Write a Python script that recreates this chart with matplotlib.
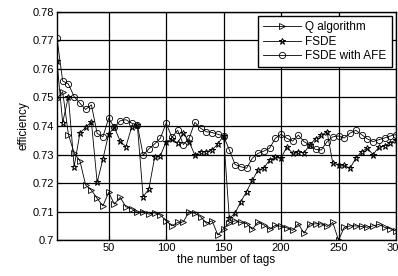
import matplotlib
matplotlib.use("Agg")
import matplotlib.pyplot as plt

plt.rcParams['font.family'] = ['Liberation Sans', 'DejaVu Sans']

tags = list(range(5, 305, 5))

q_algorithm = [0.7495, 0.752, 0.737, 0.7305, 0.7278, 0.7193, 0.7175, 0.7146, 0.712, 0.7167,
               0.7126, 0.715, 0.7117, 0.711, 0.7097, 0.710, 0.7091, 0.7096, 0.7088, 0.7068,
               0.7050, 0.7062, 0.7064, 0.7100, 0.7094, 0.7082, 0.7059, 0.7068, 0.7018, 0.7040,
               0.7060, 0.7068, 0.7062, 0.7058, 0.7038, 0.7064, 0.7053, 0.7038, 0.7052, 0.7048,
               0.7043, 0.7034, 0.7057, 0.7024, 0.7057, 0.7057, 0.7057, 0.7048, 0.7062, 0.7000,
               0.7045, 0.7050, 0.7050, 0.7048, 0.7045, 0.7050, 0.7055, 0.7045, 0.7040, 0.7032]

fsde = [0.7628, 0.7412, 0.7503, 0.7257, 0.7375, 0.7395, 0.7415, 0.7202, 0.7284, 0.7372,
        0.7395, 0.7347, 0.7327, 0.7396, 0.7402, 0.7152, 0.7179, 0.7290, 0.7296, 0.7345,
        0.7353, 0.7341, 0.7374, 0.7345, 0.7298, 0.7310, 0.7310, 0.7316, 0.7337, 0.7366,
        0.7076, 0.7095, 0.7135, 0.7170, 0.7210, 0.7246, 0.7252, 0.7281, 0.7290, 0.7287,
        0.7327, 0.7304, 0.7310, 0.7306, 0.7333, 0.7356, 0.7368, 0.7380, 0.7270, 0.7265,
        0.7262, 0.7252, 0.7287, 0.7310, 0.7322, 0.7300, 0.7325, 0.7330, 0.7341, 0.7352]

fsde_afe = [0.771, 0.7558, 0.7547, 0.7503, 0.748, 0.7458, 0.7474, 0.7374, 0.7362, 0.7427,
            0.7395, 0.7418, 0.7422, 0.7410, 0.7404, 0.7298, 0.7320, 0.7337, 0.7357, 0.7410,
            0.7360, 0.7385, 0.7335, 0.7357, 0.7413, 0.7392, 0.7380, 0.7377, 0.7371, 0.7365,
            0.7316, 0.7265, 0.7257, 0.7252, 0.7287, 0.7304, 0.7312, 0.7322, 0.7357, 0.7371,
            0.7357, 0.7347, 0.7368, 0.7345, 0.7333, 0.7318, 0.7316, 0.7345, 0.7362, 0.7365,
            0.7358, 0.7375, 0.7385, 0.7370, 0.7355, 0.7345, 0.7352, 0.7358, 0.7365, 0.7370]

xticks = [50, 100, 150, 200, 250, 300]
yticks = [0.7, 0.71, 0.72, 0.73, 0.74, 0.75, 0.76, 0.77, 0.78]
ytick_labels = ["0.7", "0.71", "0.72", "0.73", "0.74", "0.75", "0.76", "0.77", "0.78"]

fig = plt.figure(figsize=(3.98, 2.76), dpi=100)
ax = fig.add_axes([0.143, 0.130, 0.852, 0.827])

ax.plot(tags, q_algorithm, color='black', lw=0.6, marker='>', ms=5, mfc='none', mew=0.6,
        label="Q algorithm")
ax.plot(tags, fsde, color='black', lw=0.6, marker='*', ms=5, mfc='none', mew=0.7,
        label="FSDE")
ax.plot(tags, fsde_afe, color='black', lw=0.6, marker='o', ms=4.5, mfc='none', mew=0.6,
        label="FSDE with AFE")

ax.set_xlim(5, 300)
ax.set_ylim(0.7, 0.78)
ax.set_xticks(xticks)
ax.set_yticks(yticks)
ax.set_yticklabels(ytick_labels)
ax.grid(True, color='black', lw=0.9, ls='-')
ax.tick_params(direction='in', labelsize=8, length=3, pad=2)
for s in ax.spines.values():
    s.set_linewidth(1.0)

ax.set_xlabel("the number of tags", fontsize=8.5, labelpad=1)
ax.set_ylabel("efficiency", fontsize=8.5, labelpad=2)

leg = ax.legend(loc='upper right', fontsize=8.5, frameon=True, fancybox=False,
                edgecolor='black', borderpad=0.45, labelspacing=0.2,
                handlelength=3.2, handletextpad=0.4, borderaxespad=0.35)
leg.get_frame().set_linewidth(1.0)
leg.get_frame().set_alpha(1)

fig.savefig("out.png", dpi=100)
